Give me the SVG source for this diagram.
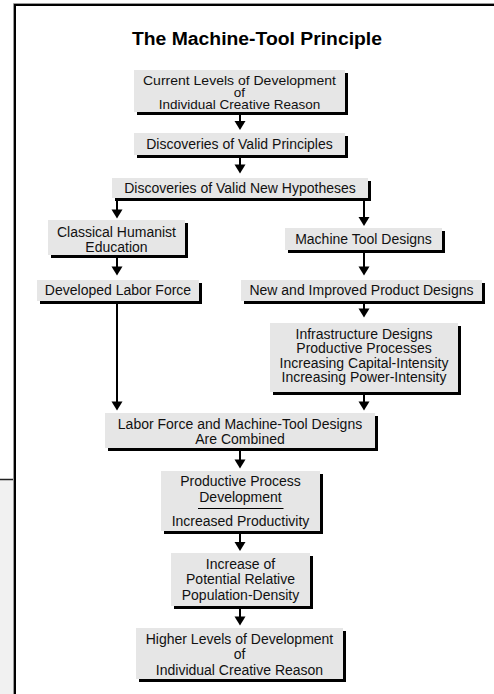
<svg xmlns="http://www.w3.org/2000/svg" width="494" height="694" viewBox="0 0 494 694">
<style>
.bg{fill:#ffffff}
.box{fill:#e6e6e6}
.sh{fill:#000000}
.t{font-family:"Liberation Sans",Arial,Helvetica,sans-serif;font-size:14px;fill:#111;text-anchor:middle}
.ts{font-size:13.5px}
.title{font-family:"Liberation Sans",Arial,Helvetica,sans-serif;font-size:18px;font-weight:bold;fill:#000;text-anchor:middle}
.ln{stroke:#000;stroke-width:2;fill:none}
</style>
<defs>
<path id="ah" d="M-5.5,-9 L5.5,-9 L0,0 Z" fill="#000"/>
</defs>
<rect class="bg" x="0" y="0" width="494" height="694"/>
<g id="frame">
<rect x="0" y="479" width="14" height="215" fill="#f1f1f1"/>
<line x1="0" y1="479.5" x2="15" y2="479.5" stroke="#222" stroke-width="1.5"/>
<path d="M15,694 V5 H494" stroke="#000" stroke-width="2" fill="none"/>
<path d="M13.5,694 V3.5 H494" stroke="#999" stroke-width="1" fill="none"/>
</g>
<text class="title" x="257" y="44.5" textLength="250" lengthAdjust="spacingAndGlyphs">The Machine-Tool Principle</text>
<g id="connectors">
<path class="ln" d="M240,114 V122"/><use href="#ah" x="240" y="130"/>
<path class="ln" d="M240,157 V165"/><use href="#ah" x="240" y="173.5"/>
<path class="ln" d="M117,200 H364"/>
<path class="ln" d="M117,200 V210"/><use href="#ah" x="117" y="218.5"/>
<path class="ln" d="M364,200 V218"/><use href="#ah" x="364" y="226"/>
<path class="ln" d="M117,257 V267"/><use href="#ah" x="117" y="275.5"/>
<path class="ln" d="M364,252 V267"/><use href="#ah" x="364" y="275.5"/>
<path class="ln" d="M364,303 V309"/><use href="#ah" x="364" y="317.5"/>
<path class="ln" d="M117,303 V402"/><use href="#ah" x="117" y="410.5"/>
<path class="ln" d="M364,393 V402"/><use href="#ah" x="364" y="410.5"/>
<path class="ln" d="M240,450 V460"/><use href="#ah" x="240" y="468.5"/>
<path class="ln" d="M240,533 V543"/><use href="#ah" x="240" y="551"/>
<path class="ln" d="M240,608 V617"/><use href="#ah" x="240" y="625.5"/>
</g>
<g id="n1">
<rect class="sh" x="137" y="73" width="211" height="42"/>
<rect class="box" x="134" y="70" width="211" height="42"/>
<text class="t ts" x="239.5" y="84.5" textLength="193" lengthAdjust="spacingAndGlyphs">Current Levels of Development</text>
<text class="t ts" x="239.5" y="96.5">of</text>
<text class="t ts" x="239.5" y="108.5">Individual Creative Reason</text>
</g>
<g id="n2">
<rect class="sh" x="137" y="136" width="211" height="22"/>
<rect class="box" x="134" y="133" width="211" height="22"/>
<text class="t" x="239.5" y="148.5">Discoveries of Valid Principles</text>
</g>
<g id="n3">
<rect class="sh" x="115" y="181" width="256" height="20"/>
<rect class="box" x="112" y="178" width="256" height="20"/>
<text class="t" x="240" y="193">Discoveries of Valid New Hypotheses</text>
</g>
<g id="n4">
<rect class="sh" x="51" y="223" width="137" height="35"/>
<rect class="box" x="48" y="220" width="137" height="35"/>
<text class="t" x="116.5" y="236.5">Classical Humanist</text>
<text class="t" x="116.5" y="252">Education</text>
</g>
<g id="n5">
<rect class="sh" x="288" y="231" width="157" height="22"/>
<rect class="box" x="285" y="228" width="157" height="22"/>
<text class="t" x="363.5" y="243.5">Machine Tool Designs</text>
</g>
<g id="n6">
<rect class="sh" x="40" y="283" width="162" height="21"/>
<rect class="box" x="37" y="280" width="162" height="21"/>
<text class="t" x="118" y="295">Developed Labor Force</text>
</g>
<g id="n7">
<rect class="sh" x="244" y="283" width="241" height="21"/>
<rect class="box" x="241" y="280" width="241" height="21"/>
<text class="t" x="361.5" y="295">New and Improved Product Designs</text>
</g>
<g id="n8">
<rect class="sh" x="273" y="326" width="188" height="69"/>
<rect class="box" x="270" y="323" width="188" height="69"/>
<text class="t" x="364" y="338.5">Infrastructure Designs</text>
<text class="t" x="364" y="353">Productive Processes</text>
<text class="t" x="364" y="367.5">Increasing Capital-Intensity</text>
<text class="t" x="364" y="382">Increasing Power-Intensity</text>
</g>
<g id="n9">
<rect class="sh" x="108" y="416" width="270" height="35"/>
<rect class="box" x="105" y="413" width="270" height="35"/>
<text class="t" x="240" y="428.5">Labor Force and Machine-Tool Designs</text>
<text class="t" x="240" y="443.5">Are Combined</text>
</g>
<g id="n10">
<rect class="sh" x="164" y="474" width="159" height="60"/>
<rect class="box" x="161" y="471" width="159" height="60"/>
<text class="t" x="240.5" y="485.5">Productive Process</text>
<text class="t" x="240.5" y="501.5">Development</text>
<line x1="198" y1="508.5" x2="283.5" y2="508.5" stroke="#000" stroke-width="1"/>
<text class="t" x="240.5" y="525.5">Increased Productivity</text>
</g>
<g id="n11">
<rect class="sh" x="174" y="556" width="139" height="53"/>
<rect class="box" x="171" y="553" width="139" height="53"/>
<text class="t" x="240.5" y="569">Increase of</text>
<text class="t" x="240.5" y="584">Potential Relative</text>
<text class="t" x="240.5" y="600">Population-Density</text>
</g>
<g id="n12">
<rect class="sh" x="139" y="631" width="207" height="51"/>
<rect class="box" x="136" y="628" width="207" height="51"/>
<text class="t" x="239.5" y="643.5">Higher Levels of Development</text>
<text class="t" x="239.5" y="659">of</text>
<text class="t" x="239.5" y="674.5">Individual Creative Reason</text>
</g>
</svg>
